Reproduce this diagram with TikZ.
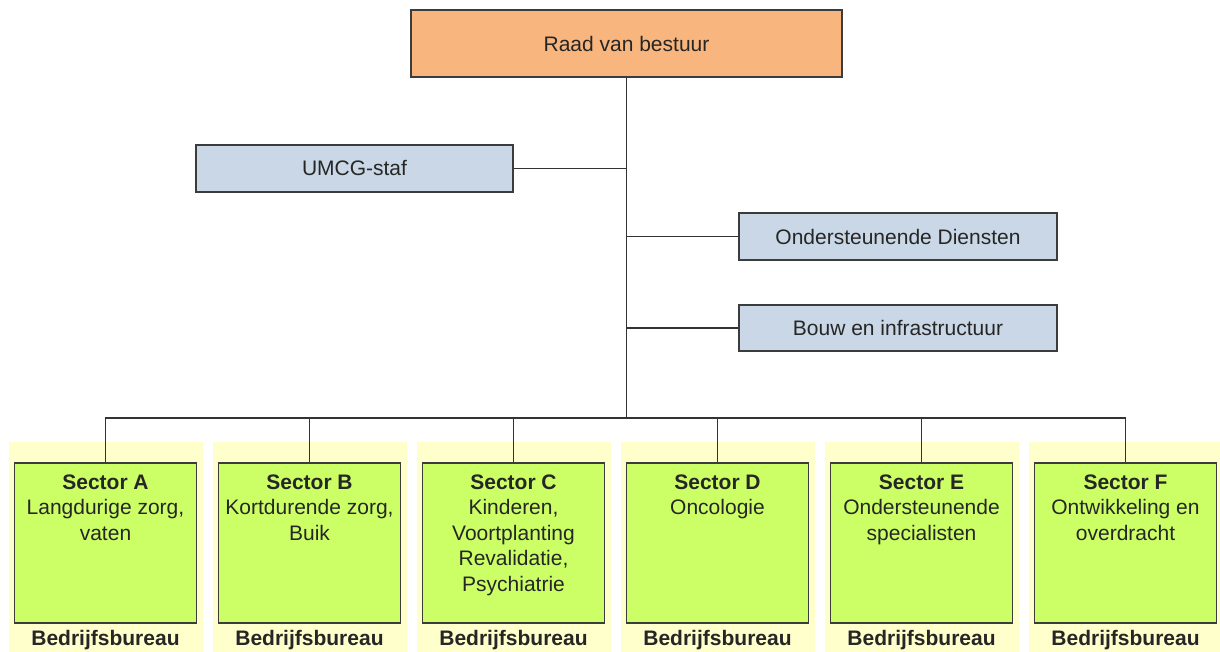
\documentclass[tikz,border=0pt]{standalone}
\usepackage{fontspec}
\setmainfont{Liberation Sans}
\definecolor{txt}{HTML}{262626}
\definecolor{bord}{HTML}{3C3C3C}
\definecolor{linec}{HTML}{333333}
\definecolor{orangefill}{HTML}{F8B67E}
\definecolor{bluefill}{HTML}{C9D7E6}
\definecolor{greenfill}{HTML}{CCFF66}
\definecolor{yellowfill}{HTML}{FFFFCC}
\begin{document}
\begin{tikzpicture}[x=1pt,y=-1pt,
  every node/.style={font=\fontsize{21}{25.5}\selectfont, text=txt},
  box/.style={draw=bord, line width=1.3pt, inner sep=0pt},
  topbox/.style={box, fill=orangefill, minimum width=431pt, minimum height=67pt},
  staff/.style={box, fill=bluefill, minimum width=317pt, minimum height=47pt},
  sector/.style={box, fill=greenfill, minimum width=182pt, minimum height=160pt},
  bgbox/.style={fill=yellowfill, draw=none, minimum width=194pt, minimum height=210pt, inner sep=0pt},
  sectortext/.style={anchor=north, align=center, inner sep=0pt},
  bureau/.style={anchor=base, inner sep=0pt, font=\fontsize{21}{25.5}\selectfont\bfseries},
  conn/.style={draw=linec, line width=1.4pt, line join=miter},
]
\useasboundingbox (0,0) rectangle (1220,652);

% background panels
\node[bgbox] (yA) at (105.5,547) {};
\node[bgbox] (yB) at (309.5,547) {};
\node[bgbox] (yC) at (513.5,547) {};
\node[bgbox] (yD) at (717.5,547) {};
\node[bgbox] (yE) at (921.5,547) {};
\node[bgbox] (yF) at (1125.5,547) {};

% top and staff boxes
\node[topbox] (top) at (626.5,43.5) {Raad van bestuur};
\node[staff] (staf) at (354.5,168.5) {UMCG-staf};
\node[staff, minimum width=318pt] (od) at (898,236.5) {Ondersteunende Diensten};
\node[staff, minimum width=318pt, minimum height=46pt] (bouw) at (898,328) {Bouw en infrastructuur};

% sector boxes
\node[sector] (sA) at (105.5,543) {};
\node[sector] (sB) at (309.5,543) {};
\node[sector] (sC) at (513.5,543) {};
\node[sector] (sD) at (717.5,543) {};
\node[sector] (sE) at (921.5,543) {};
\node[sector] (sF) at (1125.5,543) {};

\node[sectortext] (tA) at ([yshift=-12pt]sA.north) {\textbf{Sector A}\\Langdurige zorg,\\vaten};
\node[sectortext] (tB) at ([yshift=-12pt]sB.north) {\textbf{Sector B}\\Kortdurende zorg,\\Buik};
\node[sectortext] (tC) at ([yshift=-12pt]sC.north) {\textbf{Sector C}\\Kinderen,\\Voortplanting\\Revalidatie,\\Psychiatrie};
\node[sectortext] (tD) at ([yshift=-12pt]sD.north) {\textbf{Sector D}\\Oncologie};
\node[sectortext] (tE) at ([yshift=-12pt]sE.north) {\textbf{Sector E}\\Ondersteunende\\specialisten};
\node[sectortext] (tF) at ([yshift=-12pt]sF.north) {\textbf{Sector F}\\Ontwikkeling en\\overdracht};

\node[bureau] (bA) at ([yshift=-21.5pt]sA.south) {Bedrijfsbureau};
\node[bureau] (bB) at ([yshift=-21.5pt]sB.south) {Bedrijfsbureau};
\node[bureau] (bC) at ([yshift=-21.5pt]sC.south) {Bedrijfsbureau};
\node[bureau] (bD) at ([yshift=-21.5pt]sD.south) {Bedrijfsbureau};
\node[bureau] (bE) at ([yshift=-21.5pt]sE.south) {Bedrijfsbureau};
\node[bureau] (bF) at ([yshift=-21.5pt]sF.south) {Bedrijfsbureau};

% connectors
\coordinate (bus) at (626.5,418);
\draw[conn] (top.south) -- (bus);
\draw[conn] (staf.east) -- (staf.east -| top.south);
\draw[conn] (od.west) -- (od.west -| top.south);
\draw[conn] (bouw.west) -- (bouw.west -| top.south);
\draw[conn] (sA.north) -- (sA.north |- bus) -- (sF.north |- bus) -- (sF.north);
\foreach \s in {sB,sC,sD,sE}{
  \draw[conn] (\s.north) -- (\s.north |- bus);
}
\end{tikzpicture}
\end{document}
